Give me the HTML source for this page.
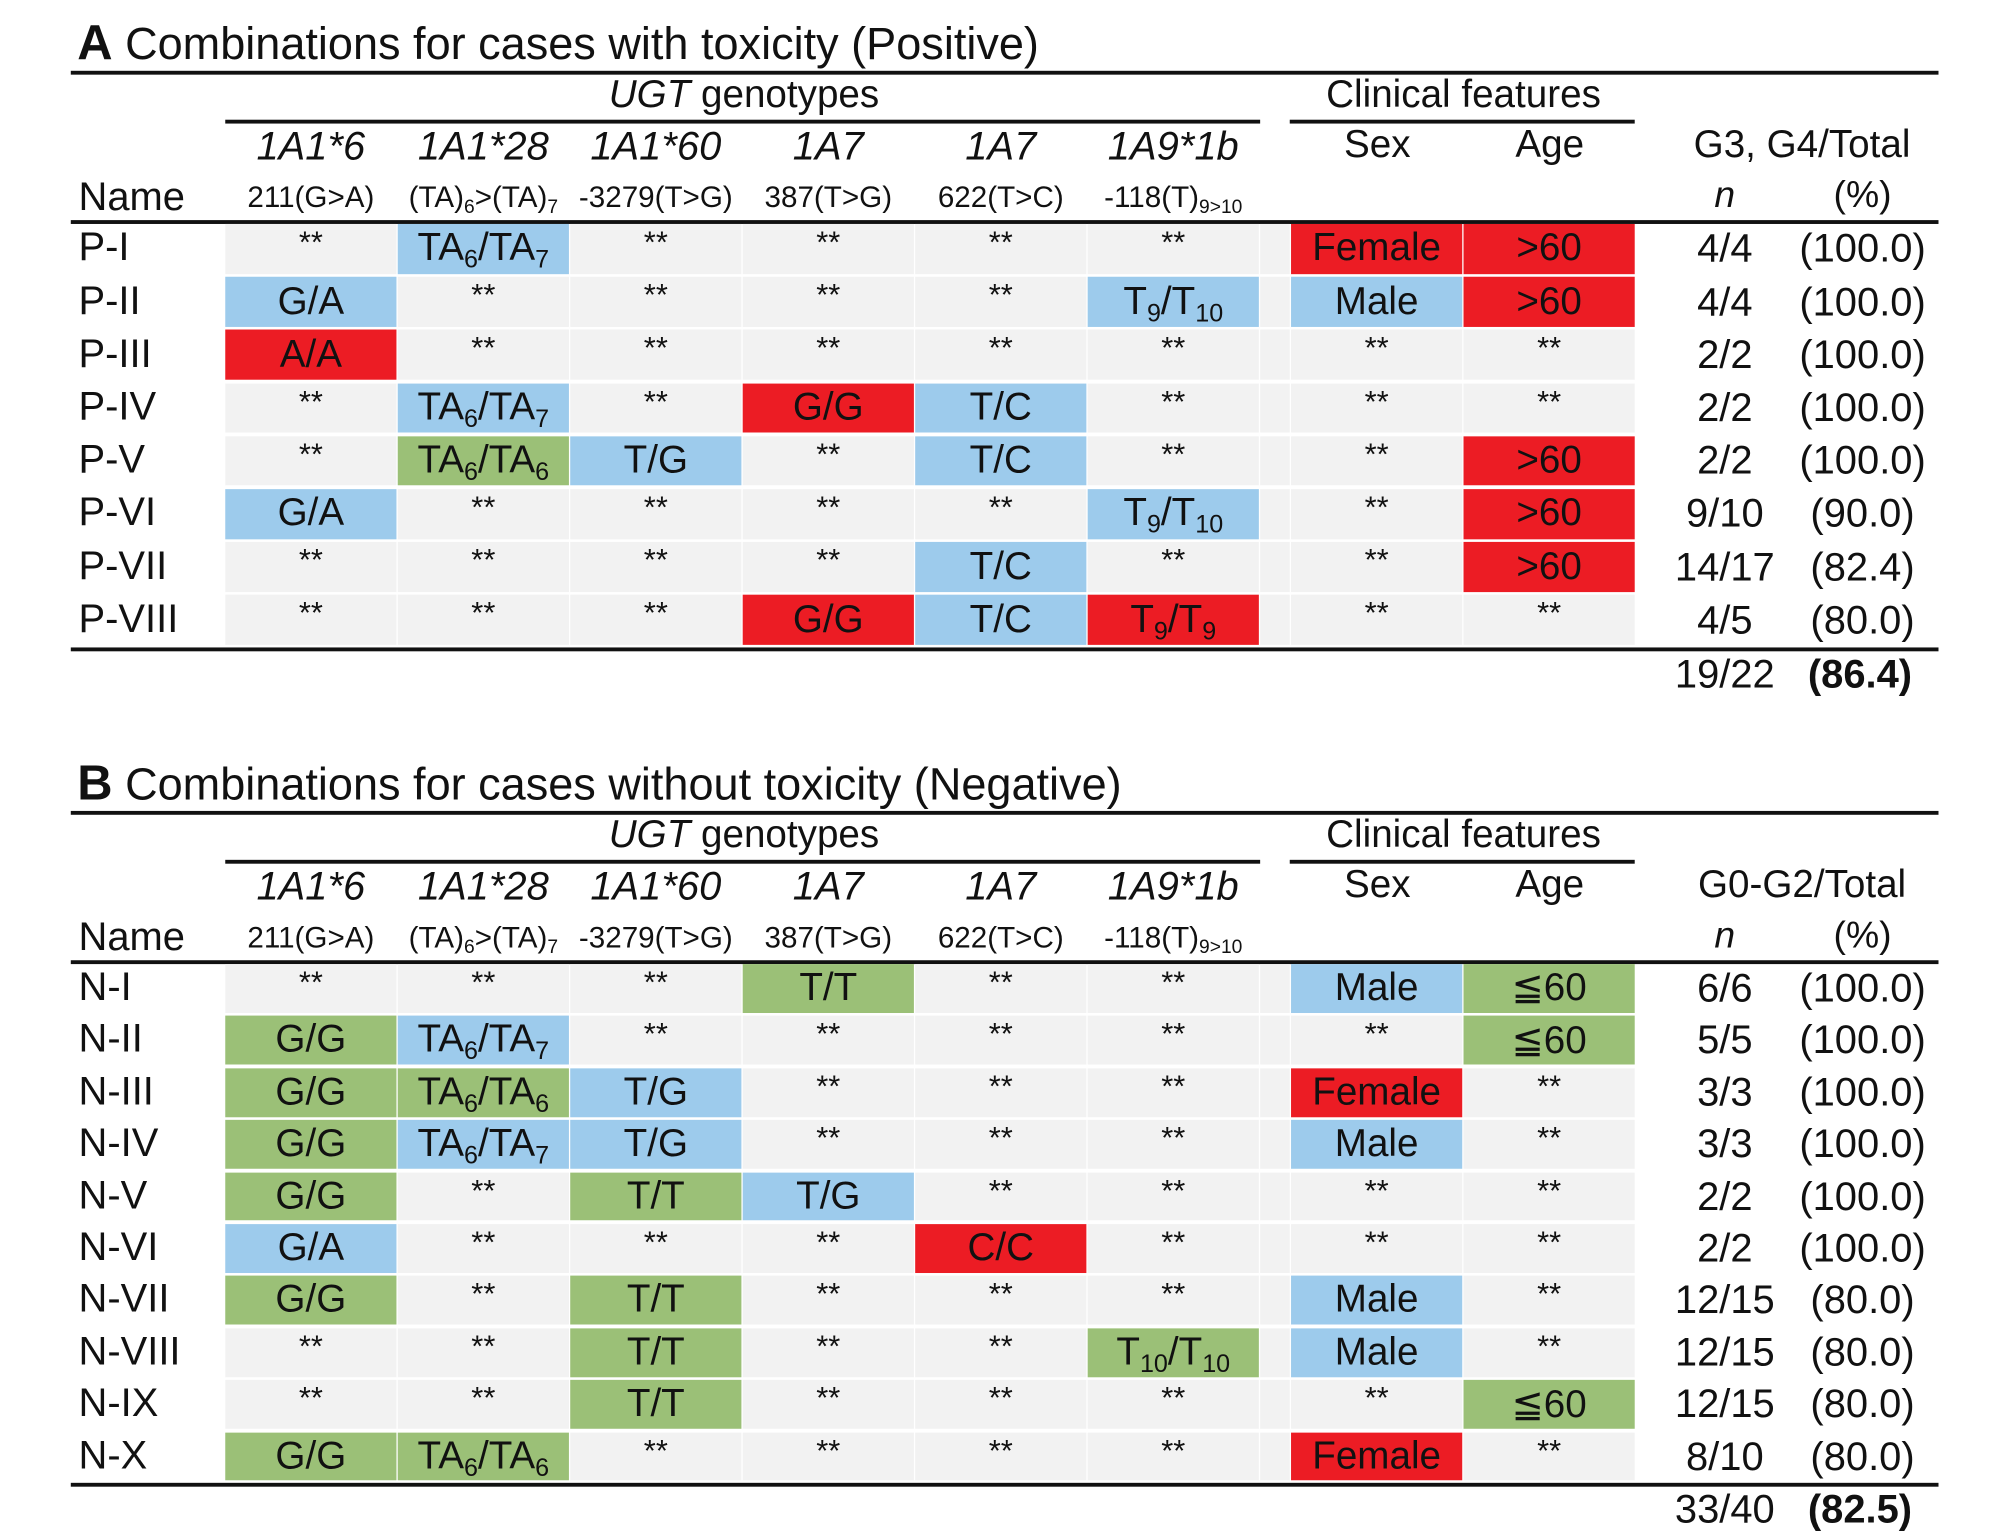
<!DOCTYPE html>
<html><head><meta charset="utf-8">
<style>
html,body{margin:0;padding:0;background:#fff;}
body{width:2008px;height:1537px;overflow:hidden;position:relative;}
#stage{position:absolute;left:0;top:0;width:1560px;height:1194px;transform:scale(1.28718);transform-origin:0 0;font-family:"Liberation Sans",Arial,sans-serif;color:#111;}
.abs{position:absolute;white-space:nowrap;}
.rule{position:absolute;background:#111;}
.cell{position:absolute;display:flex;align-items:center;justify-content:center;font-size:30px;white-space:nowrap;}
.cell > span{display:inline-block;}
.cell.star{align-items:flex-start;padding-top:1px;box-sizing:border-box;font-size:24px;}
.txt{position:absolute;white-space:nowrap;text-align:center;transform:translateX(-50%);}
sub{font-size:65%;vertical-align:-0.3em;line-height:0;}
</style></head><body>
<div id="stage"></div>
<script>
// ---- data ----
const colHeadsGene = ["1A1*6","1A1*28","1A1*60","1A7","1A7","1A9*1b"];
const colHeadsVar = ["211(G>A)","(TA)<sub>6</sub>>(TA)<sub>7</sub>","-3279(T>G)","387(T>G)","622(T>C)","-118(T)<sub>9>10</sub>"];
const namesA = ["P-I","P-II","P-III","P-IV","P-V","P-VI","P-VII","P-VIII"];
const cellsA = [
 ["**","TA6/TA7:b","**","**","**","**","Female:r",">60:r"],
 ["G/A:b","**","**","**","**","T9/T10:b","Male:b",">60:r"],
 ["A/A:r","**","**","**","**","**","**","**"],
 ["**","TA6/TA7:b","**","G/G:r","T/C:b","**","**","**"],
 ["**","TA6/TA6:g","T/G:b","**","T/C:b","**","**",">60:r"],
 ["G/A:b","**","**","**","**","T9/T10:b","**",">60:r"],
 ["**","**","**","**","T/C:b","**","**",">60:r"],
 ["**","**","**","G/G:r","T/C:b","T9/T9:r","**","**"]
];
const nA = ["4/4","4/4","2/2","2/2","2/2","9/10","14/17","4/5"];
const pctA = ["(100.0)","(100.0)","(100.0)","(100.0)","(100.0)","(90.0)","(82.4)","(80.0)"];
const totalA = ["19/22","(86.4)"];
const namesB = ["N-I","N-II","N-III","N-IV","N-V","N-VI","N-VII","N-VIII","N-IX","N-X"];
const cellsB = [
 ["**","**","**","T/T:g","**","**","Male:b","≦60:g"],
 ["G/G:g","TA6/TA7:b","**","**","**","**","**","≦60:g"],
 ["G/G:g","TA6/TA6:g","T/G:b","**","**","**","Female:r","**"],
 ["G/G:g","TA6/TA7:b","T/G:b","**","**","**","Male:b","**"],
 ["G/G:g","**","T/T:g","T/G:b","**","**","**","**"],
 ["G/A:b","**","**","**","C/C:r","**","**","**"],
 ["G/G:g","**","T/T:g","**","**","**","Male:b","**"],
 ["**","**","T/T:g","**","**","T10/T10:g","Male:b","**"],
 ["**","**","T/T:g","**","**","**","**","≦60:g"],
 ["G/G:g","TA6/TA6:g","**","**","**","**","Female:r","**"]
];
const nB = ["6/6","5/5","3/3","3/3","2/2","2/2","12/15","12/15","12/15","8/10"];
const pctB = ["(100.0)","(100.0)","(100.0)","(100.0)","(100.0)","(100.0)","(80.0)","(80.0)","(80.0)","(80.0)"];
const totalB = ["33/40","(82.5)"];

// ---- layout ----
const stage = document.getElementById('stage');
const colX = [175,309,443,577,711,845,1003,1137];
const colW = 133;
const COLORS = {b:"#9dcbec",r:"#ec1c24",g:"#9bc077",n:"#f2f2f2"};
function fmt(t){
  const m = t.match(/^(TA|T)(\d+)\/(TA|T)(\d+)$/);
  if(m) return m[1]+"<sub>"+m[2]+"</sub>/"+m[3]+"<sub>"+m[4]+"</sub>";
  return t;
}
function add(cls, html, css){
  const d=document.createElement('div'); d.className=cls; d.innerHTML=html;
  Object.assign(d.style,css); stage.appendChild(d); return d;
}
function section(o){
  let d;
  d = add('abs','<b style="font-size:38px">'+o.letter+'</b> '+o.title,{left:'60px',top:(o.top-42)+'px',fontSize:'35px'});
   
  d = add('rule','',{left:'55px',width:'1451px',top:o.top+'px',height:'3px'});
   
  d = add('txt','<i>UGT</i> genotypes',{left:'578px',top:(o.top+2)+'px',fontSize:'30px'});
   
  d = add('rule','',{left:'175px',width:'804px',top:(o.top+38)+'px',height:'3px'});
   
  d = add('txt','Clinical features',{left:'1137px',top:(o.top+2)+'px',fontSize:'30px'});
   
  d = add('rule','',{left:'1002px',width:'268px',top:(o.top+38)+'px',height:'3px'});
   
  for(let i=0;i<6;i++){
    d = add('txt','<i>'+colHeadsGene[i]+'</i>',{left:(colX[i]+colW/2)+'px',top:(o.top+41)+'px',fontSize:'31px'});
     
    d = add('txt',colHeadsVar[i],{left:(colX[i]+colW/2)+'px',top:(o.top+85)+'px',fontSize:'23px'});
     
  }
  d = add('txt','Sex',{left:'1070px',top:(o.top+41)+'px',fontSize:'30px'});
   
  d = add('txt','Age',{left:'1204px',top:(o.top+41)+'px',fontSize:'30px'});
   
  d = add('txt',o.outHead,{left:'1400px',top:(o.top+41)+'px',fontSize:'30px'});
   
  d = add('txt','<i>n</i>',{left:'1340px',top:(o.top+81)+'px',fontSize:'29px'});
   
  d = add('txt','(%)',{left:'1447px',top:(o.top+81)+'px',fontSize:'29px'});
   
  d = add('abs','Name',{left:'61px',top:(o.top+80)+'px',fontSize:'31px'});
   
  const y0 = o.top+119;
  d = add('rule','',{left:'55px',width:'1451px',top:(y0-3)+'px',height:'3px'});
   
  for(let r=0;r<o.names.length;r++){
    const y = y0 + r*o.pitch;
    const h = o.pitch-2.5;
    d = add('abs',o.names[r],{left:'61px',top:(y+h/2-19)+'px',fontSize:'31px'});
     
    d = add('abs','',{left:'979px',width:'23px',top:y+'px',height:h+'px',background:COLORS.n});
     
    for(let c=0;c<8;c++){
      const parts = o.cells[r][c].split(':');
      const col = parts[1]||'n';
      const isStar = parts[0]==='**';
      d = add('cell'+(isStar?' star':''),'<span>'+fmt(parts[0])+'</span>',{left:colX[c]+'px',width:colW+'px',top:y+'px',height:h+'px',background:COLORS[col]});
       
    }
    d = add('txt',o.n[r],{left:'1340px',top:(y+h/2-18)+'px',fontSize:'31px'});
     
    d = add('txt',o.pct[r],{left:'1447px',top:(y+h/2-18)+'px',fontSize:'31px'});
     
  }
  const yb = y0 + o.names.length*o.pitch - 1;
  d = add('rule','',{left:'55px',width:'1451px',top:yb+'px',height:'3px'});
   
  d = add('txt',o.total[0],{left:'1340px',top:(yb+3)+'px',fontSize:'31px'});
   
  d = add('txt','<b>'+o.total[1]+'</b>',{left:'1445px',top:(yb+3)+'px',fontSize:'31px'});
   
}
section({letter:'A',title:'Combinations for cases with toxicity (Positive)',top:55,names:namesA,cells:cellsA,n:nA,pct:pctA,total:totalA,pitch:41.2,outHead:'G3, G4/Total'});
section({letter:'B',title:'Combinations for cases without toxicity (Negative)',top:630,names:namesB,cells:cellsB,n:nB,pct:pctB,total:totalB,pitch:40.4,outHead:'G0-G2/Total'});
</script>
</body></html>
